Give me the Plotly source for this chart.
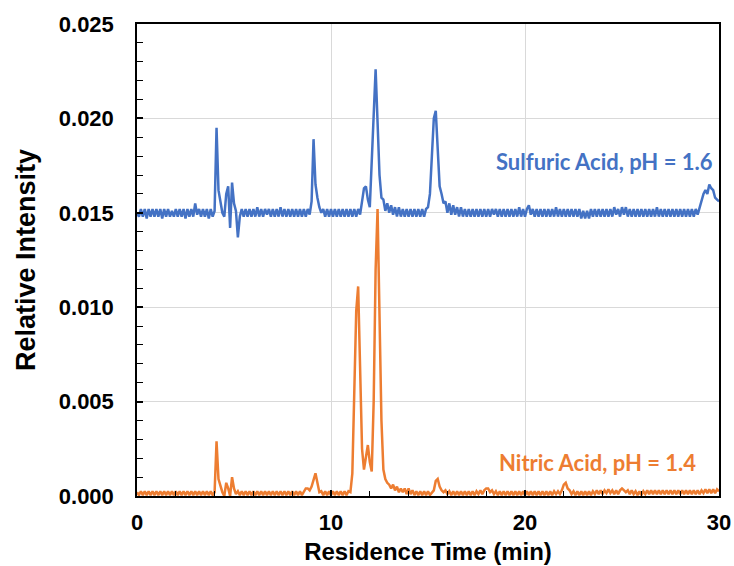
import numpy as np
import plotly.graph_objects as go

# Sampling grid: residence time (min), 0.1 min steps from 0 to 30
time_min = np.round(np.arange(0, 301) * 0.1, 1)

# Relative intensity, one row per minute (t = m.0 ... m.9), plus t = 30.0
sulfuric = [
    0.0150, 0.0148, 0.0152, 0.0148, 0.0152, 0.0147, 0.0152, 0.0148, 0.0152, 0.0148,  # 0
    0.0152, 0.0148, 0.0152, 0.0147, 0.0152, 0.0148, 0.0152, 0.0148, 0.0151, 0.0148,  # 1
    0.0152, 0.0148, 0.0152, 0.0148, 0.0152, 0.0147, 0.0152, 0.0148, 0.0152, 0.0148,  # 2
    0.0155, 0.0149, 0.0152, 0.0148, 0.0152, 0.0148, 0.0152, 0.0147, 0.0152, 0.0148,  # 3
    0.0151, 0.0195, 0.0162, 0.0155, 0.0150, 0.0148, 0.0160, 0.0164, 0.0142, 0.0166,  # 4
    0.0155, 0.0151, 0.0137, 0.0148, 0.0152, 0.0148, 0.0152, 0.0148, 0.0152, 0.0148,  # 5
    0.0152, 0.0148, 0.0153, 0.0148, 0.0152, 0.0148, 0.0152, 0.0149, 0.0152, 0.0148,  # 6
    0.0152, 0.0148, 0.0152, 0.0148, 0.0153, 0.0148, 0.0152, 0.0148, 0.0152, 0.0148,  # 7
    0.0152, 0.0148, 0.0152, 0.0148, 0.0152, 0.0148, 0.0152, 0.0148, 0.0152, 0.0149,  # 8
    0.0156, 0.0189, 0.0165, 0.0158, 0.0153, 0.0150, 0.0152, 0.0148, 0.0152, 0.0148,  # 9
    0.0152, 0.0148, 0.0152, 0.0148, 0.0152, 0.0148, 0.0152, 0.0148, 0.0152, 0.0148,  # 10
    0.0152, 0.0148, 0.0152, 0.0148, 0.0152, 0.0149, 0.0155, 0.0163, 0.0164, 0.0157,  # 11
    0.0153, 0.0175, 0.0205, 0.0226, 0.0198, 0.0170, 0.0158, 0.0157, 0.0151, 0.0155,  # 12
    0.0150, 0.0154, 0.0149, 0.0153, 0.0148, 0.0153, 0.0148, 0.0152, 0.0148, 0.0152,  # 13
    0.0148, 0.0152, 0.0148, 0.0152, 0.0148, 0.0152, 0.0148, 0.0152, 0.0148, 0.0152,  # 14
    0.0153, 0.0160, 0.0180, 0.0200, 0.0204, 0.0182, 0.0164, 0.0160, 0.0155, 0.0156,  # 15
    0.0150, 0.0155, 0.0149, 0.0154, 0.0149, 0.0153, 0.0148, 0.0153, 0.0148, 0.0152,  # 16
    0.0148, 0.0152, 0.0148, 0.0152, 0.0148, 0.0152, 0.0148, 0.0152, 0.0148, 0.0152,  # 17
    0.0148, 0.0152, 0.0148, 0.0152, 0.0149, 0.0152, 0.0148, 0.0152, 0.0148, 0.0152,  # 18
    0.0148, 0.0152, 0.0148, 0.0152, 0.0148, 0.0152, 0.0148, 0.0153, 0.0148, 0.0152,  # 19
    0.0148, 0.0152, 0.0154, 0.0149, 0.0152, 0.0148, 0.0152, 0.0148, 0.0152, 0.0148,  # 20
    0.0152, 0.0148, 0.0152, 0.0148, 0.0152, 0.0148, 0.0153, 0.0148, 0.0152, 0.0148,  # 21
    0.0152, 0.0148, 0.0152, 0.0148, 0.0152, 0.0148, 0.0152, 0.0148, 0.0152, 0.0147,  # 22
    0.0151, 0.0147, 0.0151, 0.0147, 0.0152, 0.0148, 0.0152, 0.0148, 0.0152, 0.0148,  # 23
    0.0152, 0.0148, 0.0152, 0.0148, 0.0152, 0.0148, 0.0153, 0.0149, 0.0152, 0.0148,  # 24
    0.0153, 0.0149, 0.0153, 0.0148, 0.0152, 0.0148, 0.0152, 0.0148, 0.0152, 0.0148,  # 25
    0.0152, 0.0148, 0.0152, 0.0148, 0.0152, 0.0148, 0.0152, 0.0148, 0.0153, 0.0148,  # 26
    0.0152, 0.0148, 0.0152, 0.0148, 0.0152, 0.0148, 0.0152, 0.0148, 0.0152, 0.0148,  # 27
    0.0152, 0.0148, 0.0152, 0.0148, 0.0152, 0.0148, 0.0152, 0.0148, 0.0152, 0.0149,  # 28
    0.0153, 0.0157, 0.0160, 0.0162, 0.0160, 0.0165, 0.0163, 0.0162, 0.0158, 0.0157,  # 29
    0.0156,                                                                          # 30
]

nitric = [
    0.00020, 0.00005, 0.00025, 0.00005, 0.00025, 0.00005, 0.00025, 0.00005, 0.00025, 0.00005,  # 0
    0.00025, 0.00005, 0.00025, 0.00005, 0.00025, 0.00005, 0.00025, 0.00005, 0.00025, 0.00005,  # 1
    0.00025, 0.00005, 0.00025, 0.00005, 0.00025, 0.00005, 0.00025, 0.00005, 0.00025, 0.00005,  # 2
    0.00025, 0.00005, 0.00025, 0.00005, 0.00025, 0.00005, 0.00025, 0.00005, 0.00025, 0.00005,  # 3
    0.00020, 0.00290, 0.00090, 0.00050, 0.00020, 0.00000, 0.00070, 0.00040, 0.00000, 0.00100,  # 4
    0.00040, 0.00010, 0.00025, 0.00005, 0.00025, 0.00005, 0.00025, 0.00005, 0.00025, 0.00005,  # 5
    0.00025, 0.00005, 0.00025, 0.00005, 0.00025, 0.00005, 0.00025, 0.00005, 0.00025, 0.00005,  # 6
    0.00025, 0.00005, 0.00025, 0.00005, 0.00025, 0.00005, 0.00025, 0.00005, 0.00025, 0.00005,  # 7
    0.00025, 0.00005, 0.00025, 0.00005, 0.00025, 0.00005, 0.00025, 0.00040, 0.00040, 0.00030,  # 8
    0.00050, 0.00090, 0.00120, 0.00070, 0.00020, 0.00025, 0.00005, 0.00025, 0.00005, 0.00025,  # 9
    0.00005, 0.00025, 0.00005, 0.00025, 0.00005, 0.00025, 0.00005, 0.00025, 0.00005, 0.00025,  # 10
    0.00020, 0.00120, 0.00550, 0.00980, 0.01110, 0.00700, 0.00250, 0.00140, 0.00220, 0.00270,  # 11
    0.00180, 0.00130, 0.00500, 0.01200, 0.01520, 0.00980, 0.00400, 0.00140, 0.00090, 0.00070,  # 12
    0.00060, 0.00040, 0.00060, 0.00030, 0.00050, 0.00020, 0.00040, 0.00020, 0.00040, 0.00010,  # 13
    0.00040, 0.00010, 0.00030, 0.00005, 0.00025, 0.00005, 0.00025, 0.00005, 0.00025, 0.00005,  # 14
    0.00025, 0.00005, 0.00020, 0.00030, 0.00080, 0.00090, 0.00050, 0.00030, 0.00020, 0.00030,  # 15
    0.00010, 0.00025, 0.00005, 0.00025, 0.00005, 0.00025, 0.00005, 0.00025, 0.00005, 0.00025,  # 16
    0.00005, 0.00025, 0.00005, 0.00025, 0.00005, 0.00025, 0.00010, 0.00030, 0.00010, 0.00030,  # 17
    0.00040, 0.00040, 0.00020, 0.00030, 0.00010, 0.00025, 0.00005, 0.00025, 0.00005, 0.00025,  # 18
    0.00005, 0.00025, 0.00005, 0.00025, 0.00005, 0.00025, 0.00005, 0.00025, 0.00005, 0.00025,  # 19
    0.00005, 0.00025, 0.00005, 0.00025, 0.00005, 0.00025, 0.00005, 0.00025, 0.00005, 0.00025,  # 20
    0.00005, 0.00025, 0.00005, 0.00025, 0.00005, 0.00025, 0.00010, 0.00025, 0.00010, 0.00030,  # 21
    0.00060, 0.00070, 0.00040, 0.00030, 0.00010, 0.00025, 0.00005, 0.00025, 0.00005, 0.00025,  # 22
    0.00005, 0.00025, 0.00005, 0.00025, 0.00005, 0.00025, 0.00010, 0.00030, 0.00010, 0.00030,  # 23
    0.00010, 0.00030, 0.00015, 0.00035, 0.00015, 0.00030, 0.00010, 0.00030, 0.00010, 0.00030,  # 24
    0.00040, 0.00030, 0.00020, 0.00030, 0.00010, 0.00030, 0.00010, 0.00025, 0.00005, 0.00025,  # 25
    0.00005, 0.00025, 0.00010, 0.00030, 0.00010, 0.00030, 0.00010, 0.00030, 0.00010, 0.00030,  # 26
    0.00010, 0.00030, 0.00010, 0.00030, 0.00010, 0.00030, 0.00010, 0.00030, 0.00010, 0.00030,  # 27
    0.00010, 0.00030, 0.00010, 0.00030, 0.00010, 0.00030, 0.00010, 0.00030, 0.00010, 0.00030,  # 28
    0.00010, 0.00030, 0.00015, 0.00035, 0.00015, 0.00035, 0.00015, 0.00035, 0.00015, 0.00035,  # 29
    0.00025,                                                                                   # 30
]

x_ticks = [0, 10, 20, 30]
y_ticks = [0.000, 0.005, 0.010, 0.015, 0.020, 0.025]

label_sulfuric = "Sulfuric Acid, pH = 1.6"
label_nitric = "Nitric Acid, pH = 1.4"
x_title = "Residence Time (min)"
y_title = "Relative Intensity"

BLUE = "#4472C4"
ORANGE = "#ED7D31"
FONT = "Liberation Sans, Arial, sans-serif"
LABEL_FONT = "Lato, Liberation Sans, sans-serif"

fig = go.Figure()
fig.add_trace(go.Scatter(x=time_min, y=nitric, mode="lines", name=label_nitric,
                         line=dict(color=ORANGE, width=2.5)))
fig.add_trace(go.Scatter(x=time_min, y=sulfuric, mode="lines", name=label_sulfuric,
                         line=dict(color=BLUE, width=2.5)))

fig.add_annotation(x=29.8, y=0.0177, xref="x", yref="y", text=label_sulfuric,
                   showarrow=False, xanchor="right", yanchor="middle",
                   font=dict(family=LABEL_FONT, size=22, color=BLUE, weight="bold"))
fig.add_annotation(x=28.92, y=0.00175, xref="x", yref="y", text=label_nitric,
                   showarrow=False, xanchor="right", yanchor="middle",
                   font=dict(family=LABEL_FONT, size=22, color=ORANGE, weight="bold"))

fig.update_layout(
    width=734, height=566,
    margin=dict(l=137, r=15, t=24, b=70, autoexpand=False),
    paper_bgcolor="white", plot_bgcolor="white",
    showlegend=False,
    font=dict(family=FONT, color="black"),
)
fig.update_xaxes(
    range=[0, 30], tickvals=x_ticks, ticktext=[str(v) for v in x_ticks],
    automargin=False,
    ticks="inside", ticklen=6, tickwidth=1.5, tickcolor="black",
    minor=dict(dtick=2, ticks="inside", ticklen=5, tickwidth=1.2, tickcolor="black", showgrid=False),
    showline=True, linecolor="black", linewidth=1.5, mirror=True,
    showgrid=True, gridcolor="#d9d9d9", gridwidth=1,
    zeroline=False,
    tickfont=dict(family=FONT, size=22, color="black", weight="bold"),
    ticklabelstandoff=6,
    title=dict(text=x_title, standoff=9,
               font=dict(family=FONT, size=24, color="black", weight="bold")),
)
fig.update_yaxes(
    range=[0, 0.025], tickvals=y_ticks, tickformat=".3f",
    automargin=False,
    ticks="inside", ticklen=6, tickwidth=1.5, tickcolor="black",
    minor=dict(dtick=0.001, ticks="inside", ticklen=6, tickwidth=1.2, tickcolor="black", showgrid=False),
    showline=True, linecolor="black", linewidth=1.5, mirror=True,
    showgrid=True, gridcolor="#d9d9d9", gridwidth=1,
    zeroline=False,
    tickfont=dict(family=FONT, size=22, color="black", weight="bold"),
    ticklabelstandoff=17,
    title=dict(text=y_title, standoff=15,
               font=dict(family=FONT, size=27, color="black", weight="bold")),
)

fig.write_html("out.html")
